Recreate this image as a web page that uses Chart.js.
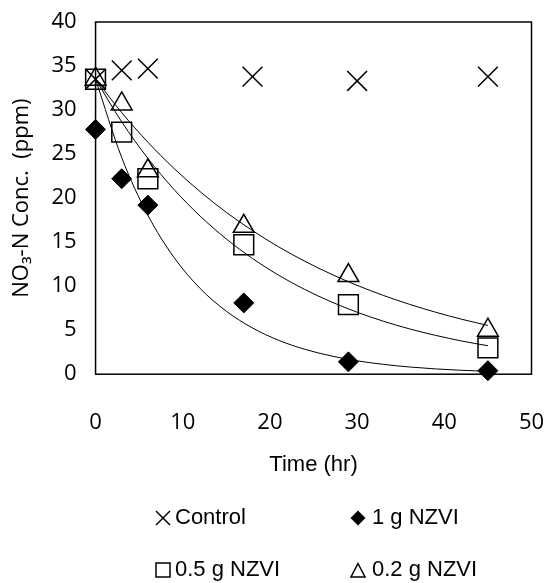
<!DOCTYPE html>
<html>
<head>
<meta charset="utf-8">
<script src="https://cdn.jsdelivr.net/npm/chart.js@4.4.1/dist/chart.umd.min.js"></script>
<style>
html, body { margin: 0; padding: 0; background: #fff; }
#wrap { position: relative; width: 547px; height: 583px; }
#chart { position: absolute; left: 0; top: 0; }
.item { position: absolute; font: 22px "Liberation Sans", Arial, sans-serif; color: #000; white-space: nowrap; line-height: 26px; }
.mark { position: absolute; }
</style>
</head>
<body>
<div id="wrap">
  <canvas id="chart" width="547" height="583"></canvas>
  <div id="legend"></div>
</div>
<script>
// measured points
const sampleTimes = [0, 3, 6, 17, 29, 45];
const controlTimes = [0, 3, 6, 18, 30, 45];
const controlValues = [33.5, 34.5, 34.7, 33.8, 33.3, 33.8];
const nzvi1gValues = [27.8, 22.2, 19.2, 8.1, 1.4, 0.4];
const nzvi05gValues = [33.5, 27.5, 22.2, 14.7, 7.9, 3.0];
const nzvi02gValues = [33.5, 30.7, 23.1, 16.8, 11.2, 5.0];

// trend curves
const trendTimes = [0, 3, 6, 9, 12, 15, 18, 21, 24, 27, 30, 33, 36, 39, 42, 45];
const trend1g = [33.5, 24.6, 18.06, 13.26, 9.73, 7.15, 5.25, 3.85, 2.83, 2.08, 1.52, 1.12, 0.82, 0.60, 0.44, 0.33];
const trend05g = [33.5, 28.66, 24.52, 20.98, 17.95, 15.36, 13.14, 11.24, 9.62, 8.23, 7.04, 6.02, 5.15, 4.41, 3.77, 3.23];
const trend02g = [33.5, 29.71, 26.35, 23.37, 20.73, 18.38, 16.31, 14.46, 12.83, 11.38, 10.09, 8.95, 7.94, 7.04, 6.24, 5.54];

const seriesNames = ['Control', '1 g NZVI', '0.5 g NZVI', '0.2 g NZVI'];

function pts(xs, ys) {
    return xs.map((x, i) => ({ x: x, y: ys[i] }));
}

function trendSet(ys) {
    return {
        data: pts(trendTimes, ys),
        showLine: true,
        borderColor: '#000',
        borderWidth: 1,
        pointRadius: 0,
        cubicInterpolationMode: 'monotone',
        clip: false
    };
}

const frame = {
    id: 'frame',
    beforeDatasetsDraw(chart) {
        const { ctx, chartArea: a } = chart;
        ctx.save();
        ctx.strokeStyle = '#000';
        ctx.lineWidth = 1.5;
        ctx.strokeRect(a.left, a.top, a.right - a.left, a.bottom - a.top);
        ctx.restore();
    }
};

const tickFont = { family: '"Open Sans", sans-serif', size: 22 };

new Chart(document.getElementById('chart'), {
    type: 'scatter',
    data: {
        datasets: [
            trendSet(trend1g),
            trendSet(trend05g),
            trendSet(trend02g),
            {
                label: seriesNames[0],
                data: pts(controlTimes, controlValues),
                pointStyle: 'crossRot',
                pointRadius: 14,
                borderColor: '#000',
                borderWidth: 1.5,
                clip: false
            },
            {
                label: seriesNames[1],
                data: pts(sampleTimes, nzvi1gValues),
                pointStyle: 'rectRot',
                pointRadius: 10,
                backgroundColor: '#000',
                borderColor: '#000',
                borderWidth: 1,
                clip: false
            },
            {
                label: seriesNames[2],
                data: pts(sampleTimes, nzvi05gValues),
                pointStyle: 'rect',
                pointRadius: 14,
                backgroundColor: 'transparent',
                borderColor: '#000',
                borderWidth: 1.5,
                clip: false
            },
            {
                label: seriesNames[3],
                data: pts(sampleTimes, nzvi02gValues),
                pointStyle: 'triangle',
                pointRadius: 12,
                backgroundColor: 'transparent',
                borderColor: '#000',
                borderWidth: 1.5,
                clip: false
            }
        ]
    },
    options: {
        responsive: false,
        animation: false,
        events: [],
        layout: { padding: { left: 0, top: 22, right: 15, bottom: 101 } },
        plugins: { legend: { display: false }, tooltip: { enabled: false } },
        scales: {
            x: {
                type: 'linear',
                min: 0,
                max: 50,
                grid: { display: false, drawTicks: true, tickLength: 35 },
                border: { display: false },
                ticks: { stepSize: 10, padding: 0, color: '#000', font: tickFont },
                title: {
                    display: true,
                    text: 'Time (hr)',
                    color: '#000',
                    font: { family: '"Liberation Sans", Arial, sans-serif', size: 22 },
                    padding: { top: 16, bottom: 4 }
                }
            },
            y: {
                min: 0,
                max: 40,
                grid: { display: false, drawTicks: true, tickLength: 19 },
                border: { display: false },
                ticks: { stepSize: 5, padding: 0, color: '#000', font: tickFont },
                title: {
                    display: true,
                    text: 'NO₃-N Conc.  (ppm)',
                    color: '#000',
                    font: tickFont,
                    padding: { top: 9, bottom: 16 }
                }
            }
        }
    },
    plugins: [frame]
});

// legend: two columns, two rows
const legendPos = [
    { shape: 'cross', mx: 163, tx: 175, y: 518 },
    { shape: 'diamond', mx: 358, tx: 372, y: 518 },
    { shape: 'square', mx: 163, tx: 175, y: 570 },
    { shape: 'triangle', mx: 358, tx: 372, y: 570 }
];
const shapes = {
    cross: '<line x1="1" y1="1" x2="15" y2="15" stroke="#000" stroke-width="1.5"/><line x1="15" y1="1" x2="1" y2="15" stroke="#000" stroke-width="1.5"/>',
    diamond: '<polygon points="8,0.5 15.5,8 8,15.5 0.5,8" fill="#000"/>',
    square: '<rect x="1" y="1" width="14" height="14" fill="none" stroke="#000" stroke-width="1.5"/>',
    triangle: '<polygon points="8,1.5 15,15 1,15" fill="none" stroke="#000" stroke-width="1.5"/>'
};
const legend = document.getElementById('legend');
legendPos.forEach((p, i) => {
    const svg = document.createElementNS('http://www.w3.org/2000/svg', 'svg');
    svg.setAttribute('width', 16);
    svg.setAttribute('height', 16);
    svg.setAttribute('class', 'mark');
    svg.style.left = (p.mx - 8) + 'px';
    svg.style.top = (p.y - 8) + 'px';
    svg.innerHTML = shapes[p.shape];
    legend.appendChild(svg);
    const span = document.createElement('div');
    span.className = 'item';
    span.textContent = seriesNames[i];
    span.style.left = p.tx + 'px';
    span.style.top = (p.y - 14) + 'px';
    legend.appendChild(span);
});
</script>
</body>
</html>
